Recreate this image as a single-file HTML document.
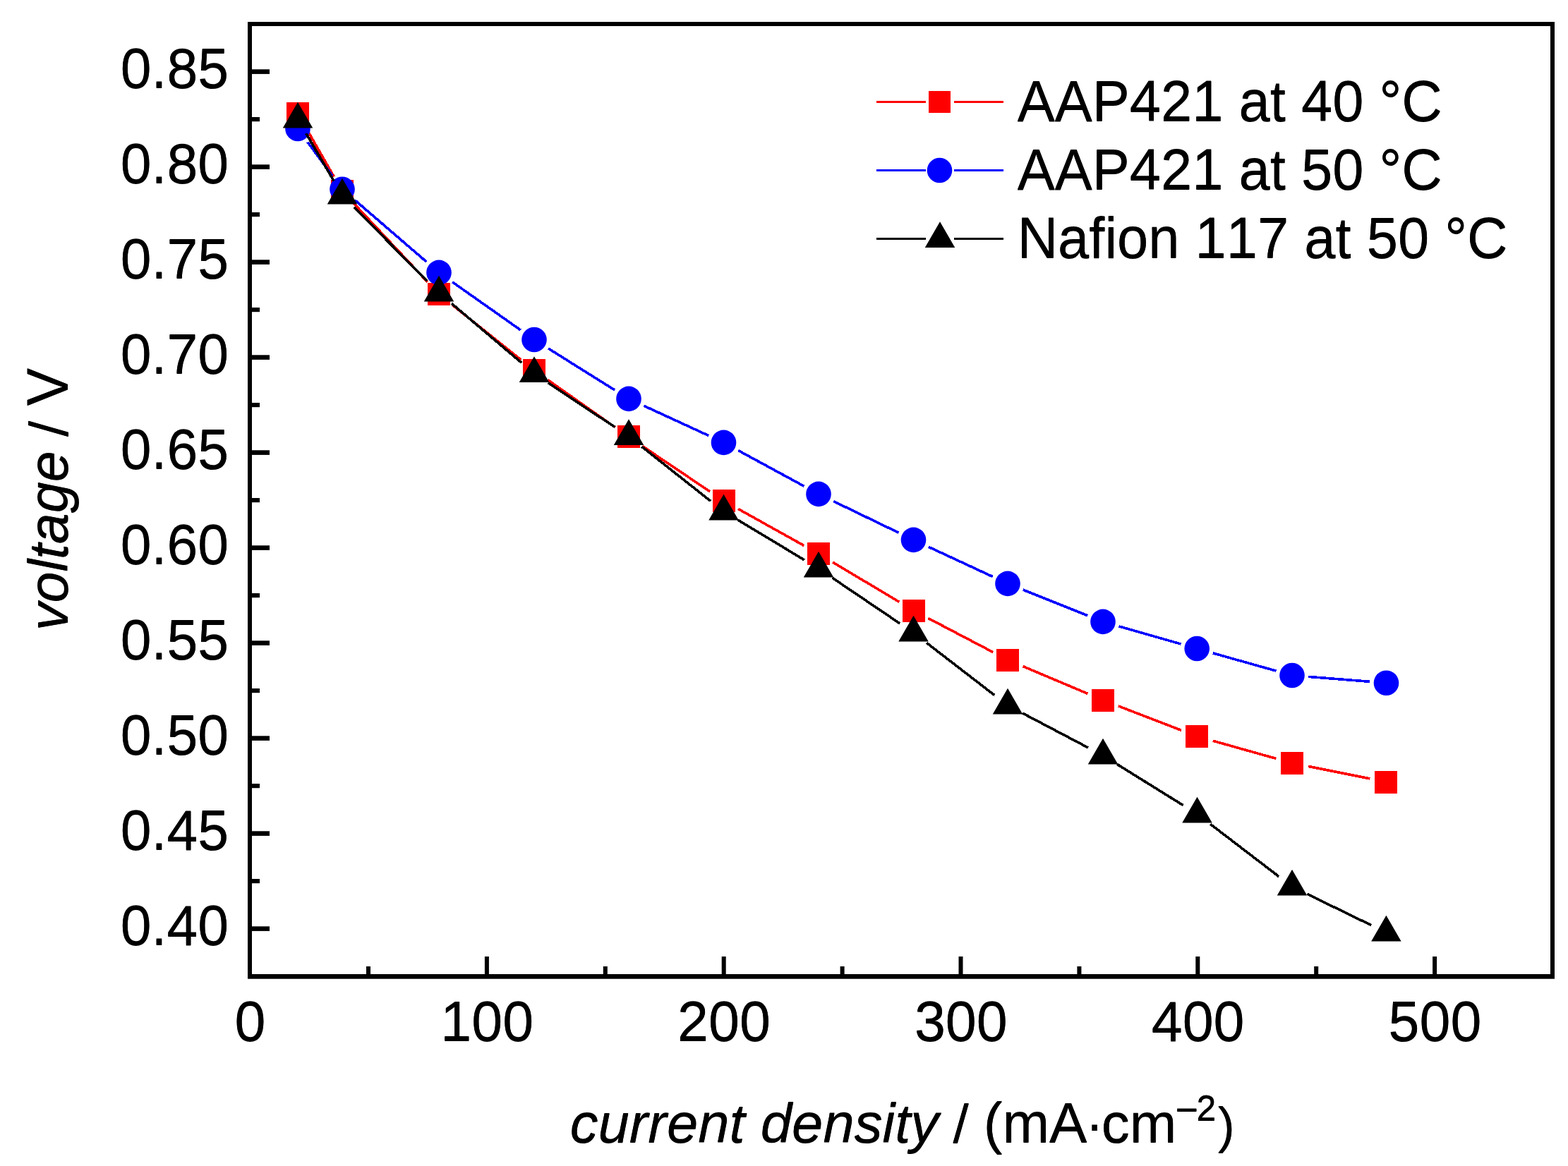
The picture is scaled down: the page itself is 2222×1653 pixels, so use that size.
<!DOCTYPE html>
<html lang="en">
<head>
<meta charset="utf-8">
<title>Polarization curves: voltage vs current density</title>
<style>
html,body{margin:0;padding:0;background:#fff;}
body{width:2222px;height:1653px;}
svg{display:block;}
text{font-kerning:none;}
</style>
</head>
<body>
<svg width="2222" height="1653" viewBox="0 0 2222 1653" font-family="'Liberation Sans', Arial, sans-serif" font-size="80" fill="#000">
<rect x="0" y="0" width="2222" height="1653" fill="#fff"/>
<g id="ticks">
<rect x="354" y="1313.3" width="28" height="6.6"/>
<rect x="354" y="1178.3" width="28" height="6.6"/>
<rect x="354" y="1043.3" width="28" height="6.6"/>
<rect x="354" y="908.3" width="28" height="6.6"/>
<rect x="354" y="773.3" width="28" height="6.6"/>
<rect x="354" y="638.3" width="28" height="6.6"/>
<rect x="354" y="503.3" width="28" height="6.6"/>
<rect x="354" y="368.3" width="28" height="6.6"/>
<rect x="354" y="233.3" width="28" height="6.6"/>
<rect x="354" y="98.3" width="28" height="6.6"/>
<rect x="354" y="1246" width="14" height="6.2"/>
<rect x="354" y="1111" width="14" height="6.2"/>
<rect x="354" y="976" width="14" height="6.2"/>
<rect x="354" y="841" width="14" height="6.2"/>
<rect x="354" y="706" width="14" height="6.2"/>
<rect x="354" y="571" width="14" height="6.2"/>
<rect x="354" y="436" width="14" height="6.2"/>
<rect x="354" y="301" width="14" height="6.2"/>
<rect x="354" y="166" width="14" height="6.2"/>
<rect x="686.9" y="1356" width="6" height="28"/>
<rect x="1022.7" y="1356" width="6" height="28"/>
<rect x="1358.5" y="1356" width="6" height="28"/>
<rect x="1694.3" y="1356" width="6" height="28"/>
<rect x="2030.1" y="1356" width="6" height="28"/>
<rect x="519" y="1370" width="6" height="14"/>
<rect x="854.8" y="1370" width="6" height="14"/>
<rect x="1190.6" y="1370" width="6" height="14"/>
<rect x="1526.4" y="1370" width="6" height="14"/>
<rect x="1862.2" y="1370" width="6" height="14"/>
</g>
<g id="frame" shape-rendering="crispEdges">
<rect x="351" y="31" width="1852" height="6"/>
<rect x="351" y="1381" width="1852" height="6.7" shape-rendering="auto"/>
<rect x="351" y="31" width="6" height="1356"/>
<rect x="2197" y="31" width="6" height="1356"/>
</g>
<g id="ylabels">
<text id="t1" transform="translate(170.8 1339) scale(0.984 1.003)">0.40</text><use href="#t1" transform="translate(0 1)"/>
<text id="t2" transform="translate(170.8 1204) scale(0.984 1.003)">0.45</text><use href="#t2" transform="translate(0 1)"/>
<text id="t3" transform="translate(170.8 1069) scale(0.984 1.003)">0.50</text><use href="#t3" transform="translate(0 1)"/>
<text id="t4" transform="translate(170.8 934) scale(0.984 1.003)">0.55</text><use href="#t4" transform="translate(0 1)"/>
<text id="t5" transform="translate(170.8 799) scale(0.984 1.003)">0.60</text><use href="#t5" transform="translate(0 1)"/>
<text id="t6" transform="translate(170.8 664) scale(0.984 1.003)">0.65</text><use href="#t6" transform="translate(0 1)"/>
<text id="t7" transform="translate(170.8 529) scale(0.984 1.003)">0.70</text><use href="#t7" transform="translate(0 1)"/>
<text id="t8" transform="translate(170.8 394) scale(0.984 1.003)">0.75</text><use href="#t8" transform="translate(0 1)"/>
<text id="t9" transform="translate(170.8 259) scale(0.984 1.003)">0.80</text><use href="#t9" transform="translate(0 1)"/>
<text id="t10" transform="translate(170.8 124) scale(0.984 1.003)">0.85</text><use href="#t10" transform="translate(0 1)"/>
</g>
<g id="xlabels">
<text id="t11" transform="translate(354.4 1475) scale(0.988 1.003)" text-anchor="middle">0</text><use href="#t11" transform="translate(0 1)"/>
<text id="t12" transform="translate(690.2 1475) scale(0.988 1.003)" text-anchor="middle">100</text><use href="#t12" transform="translate(0 1)"/>
<text id="t13" transform="translate(1026 1475) scale(0.988 1.003)" text-anchor="middle">200</text><use href="#t13" transform="translate(0 1)"/>
<text id="t14" transform="translate(1361.8 1475) scale(0.988 1.003)" text-anchor="middle">300</text><use href="#t14" transform="translate(0 1)"/>
<text id="t15" transform="translate(1697.6 1475) scale(0.988 1.003)" text-anchor="middle">400</text><use href="#t15" transform="translate(0 1)"/>
<text id="t16" transform="translate(2033.4 1475) scale(0.988 1.003)" text-anchor="middle">500</text><use href="#t16" transform="translate(0 1)"/>
</g>
<g id="ytitle">
<text id="t17" transform="translate(95.1 894) rotate(-90) scale(0.987 0.975)" font-style="italic">voltage</text><use href="#t17" transform="translate(1 0)"/>
<text id="t18" transform="translate(95.1 618.9) rotate(-90) scale(1.0 0.95)">/</text><use href="#t18" transform="translate(1 0)"/>
<text id="t19" transform="translate(95.1 575.2) rotate(-90) scale(1.0 1.01)">V</text><use href="#t19" transform="translate(1 0)"/>
</g>
<g id="xtitle">
<text id="t20" transform="translate(807.7 1619) scale(0.996 0.975)" font-style="italic">current density</text><use href="#t20" transform="translate(0 1)"/>
<text id="t21" transform="translate(1350.6 1619) scale(1.0 0.95)">/</text><use href="#t21" transform="translate(0 1)"/>
<text id="t22" transform="translate(1393.8 1619) scale(1.0 0.99)">(mA</text><use href="#t22" transform="translate(0 1)"/>
<text id="t23" transform="translate(1551 1619.5)" text-anchor="middle">·</text>
<text id="t24" transform="translate(1560.7 1619) scale(1.0 0.975)">cm</text><use href="#t24" transform="translate(0 1)"/>
<text id="t25" transform="translate(1665.2 1589.7) scale(1.12 1.0)" font-size="50">−</text><use href="#t25" transform="translate(0 1)"/>
<text id="t26" transform="translate(1695.6 1587.5)" font-size="50">2</text><use href="#t26" transform="translate(0 1)"/>
<text id="t27" transform="translate(1726 1618.7)" font-size="71">)</text><use href="#t27" transform="translate(0 1)"/>
</g>
<g stroke="#ff0000" stroke-width="3.6" fill="none" shape-rendering="crispEdges">
<line x1="433.68" y1="181.39" x2="473.32" y2="250.61"/>
<line x1="501.08" y1="288.14" x2="605.92" y2="399.86"/>
<line x1="640.35" y1="431.68" x2="738.65" y2="510.32"/>
<line x1="776.21" y1="538.53" x2="871.79" y2="605.87"/>
<line x1="910.49" y1="632.53" x2="1006.01" y2="696.87"/>
<line x1="1046.02" y1="721.44" x2="1139.48" y2="773.56"/>
<line x1="1180.16" y1="797.07" x2="1274.34" y2="853.43"/>
<line x1="1315.31" y1="876.41" x2="1407.19" y2="924.59"/>
<line x1="1449.65" y1="944.64" x2="1541.35" y2="983.36"/>
<line x1="1584.93" y1="1000.96" x2="1674.07" y2="1035.34"/>
<line x1="1718.62" y1="1050.17" x2="1808.38" y2="1075.43"/>
<line x1="1854.04" y1="1086.41" x2="1941.36" y2="1103.89"/>
</g>
<g fill="#ff0000" shape-rendering="crispEdges">
<rect x="406" y="145" width="32" height="32"/>
<rect x="469" y="255" width="32" height="32"/>
<rect x="606" y="401" width="32" height="32"/>
<rect x="741" y="509" width="32" height="32"/>
<rect x="875" y="603.4" width="32" height="32"/>
<rect x="1009.5" y="694" width="32" height="32"/>
<rect x="1144" y="769" width="32" height="32"/>
<rect x="1278.5" y="849.5" width="32" height="32"/>
<rect x="1412" y="919.5" width="32" height="32"/>
<rect x="1547" y="976.5" width="32" height="32"/>
<rect x="1680" y="1027.8" width="32" height="32"/>
<rect x="1815" y="1065.8" width="32" height="32"/>
<rect x="1948.4" y="1092.5" width="32" height="32"/>
</g>
<g stroke="#0000ff" stroke-width="3.6" fill="none" shape-rendering="crispEdges">
<line x1="435.91" y1="201.44" x2="471.09" y2="249.36"/>
<line x1="502.8" y1="283.64" x2="604.2" y2="371.06"/>
<line x1="641.21" y1="399.93" x2="737.79" y2="467.97"/>
<line x1="776.92" y1="493.97" x2="871.08" y2="552.93"/>
<line x1="912.34" y1="575.24" x2="1004.16" y2="617.56"/>
<line x1="1046.15" y1="638.61" x2="1139.35" y2="689.19"/>
<line x1="1181.16" y1="710.63" x2="1273.34" y2="755.17"/>
<line x1="1315.81" y1="775.3" x2="1406.69" y2="817.5"/>
<line x1="1449.82" y1="836.13" x2="1541.18" y2="872.67"/>
<line x1="1585.59" y1="887.86" x2="1673.61" y2="913.04"/>
<line x1="1718.82" y1="925.88" x2="1808.38" y2="951.12"/>
<line x1="1854.42" y1="959.38" x2="1941.08" y2="966.32"/>
</g>
<g fill="#0000ff">
<circle cx="422" cy="182.5" r="17.8"/>
<circle cx="485" cy="268.3" r="17.8"/>
<circle cx="622" cy="386.4" r="17.8"/>
<circle cx="757" cy="481.5" r="17.8"/>
<circle cx="891" cy="565.4" r="17.8"/>
<circle cx="1025.5" cy="627.4" r="17.8"/>
<circle cx="1160" cy="700.4" r="17.8"/>
<circle cx="1294.5" cy="765.4" r="17.8"/>
<circle cx="1428" cy="827.4" r="17.8"/>
<circle cx="1563" cy="881.4" r="17.8"/>
<circle cx="1696.2" cy="919.5" r="17.8"/>
<circle cx="1831" cy="957.5" r="17.8"/>
<circle cx="1964.5" cy="968.2" r="17.8"/>
</g>
<g stroke="#000" stroke-width="3.6" fill="none" shape-rendering="crispEdges">
<line x1="433.84" y1="189.3" x2="473.16" y2="256.7"/>
<line x1="501.56" y1="293.68" x2="605.44" y2="398.32"/>
<line x1="639.92" y1="430.2" x2="739.08" y2="514.3"/>
<line x1="776.57" y1="542.51" x2="871.43" y2="605.59"/>
<line x1="909.43" y1="633.18" x2="1007.07" y2="710.42"/>
<line x1="1045.63" y1="737.12" x2="1139.87" y2="793.88"/>
<line x1="1179.46" y1="819.17" x2="1275.04" y2="883.83"/>
<line x1="1313.11" y1="911.36" x2="1409.39" y2="985.64"/>
<line x1="1448.8" y1="1010.94" x2="1542.2" y2="1060.06"/>
<line x1="1582.96" y1="1083.41" x2="1676.54" y2="1141.59"/>
<line x1="1715.16" y1="1168.29" x2="1812.34" y2="1242.71"/>
<line x1="1852.13" y1="1267.29" x2="1943.27" y2="1311.71"/>
</g>
<g fill="#000">
<polygon points="422,144.7 443.25,181.4 400.75,181.4"/>
<polygon points="485,252.7 506.25,289.4 463.75,289.4"/>
<polygon points="622,390.7 643.25,427.4 600.75,427.4"/>
<polygon points="757,505.2 778.25,541.9 735.75,541.9"/>
<polygon points="891,594.3 912.25,631 869.75,631"/>
<polygon points="1025.5,700.7 1046.75,737.4 1004.25,737.4"/>
<polygon points="1160,781.7 1181.25,818.4 1138.75,818.4"/>
<polygon points="1294.5,872.7 1315.75,909.4 1273.25,909.4"/>
<polygon points="1428,975.7 1449.25,1012.4 1406.75,1012.4"/>
<polygon points="1563,1046.7 1584.25,1083.4 1541.75,1083.4"/>
<polygon points="1696.5,1129.7 1717.75,1166.4 1675.25,1166.4"/>
<polygon points="1831,1232.7 1852.25,1269.4 1809.75,1269.4"/>
<polygon points="1964.4,1297.7 1985.65,1334.4 1943.15,1334.4"/>
</g>
<g id="legend">
<g fill="#ff0000">
<rect x="1242" y="143" width="70" height="3" shape-rendering="crispEdges"/>
<rect x="1352" y="143" width="70" height="3" shape-rendering="crispEdges"/>
<rect x="1316" y="129" width="31" height="31"/>
</g>
<text id="t28" transform="translate(1441.7 170.6) scale(0.994 1.018)" xml:space="preserve">AAP421 at 40 °C</text><use href="#t28" transform="translate(0 1)"/>
<g fill="#0000ff">
<rect x="1242" y="240" width="70" height="3" shape-rendering="crispEdges"/>
<rect x="1352" y="240" width="70" height="3" shape-rendering="crispEdges"/>
<circle cx="1331.5" cy="241.5" r="17.8"/>
</g>
<text id="t29" transform="translate(1441.7 267.6) scale(0.994 1.018)" xml:space="preserve">AAP421 at 50 °C</text><use href="#t29" transform="translate(0 1)"/>
<g fill="#000">
<rect x="1242" y="337" width="70" height="3" shape-rendering="crispEdges"/>
<rect x="1352" y="337" width="70" height="3" shape-rendering="crispEdges"/>
<polygon points="1332,314.2 1353.25,350.9 1310.75,350.9"/>
</g>
<text id="t30" transform="translate(1441.7 364.6) scale(0.994 1.018)" xml:space="preserve">Nafion 117 at 50 °C</text><use href="#t30" transform="translate(0 1)"/>
</g>
</svg>
</body>
</html>
